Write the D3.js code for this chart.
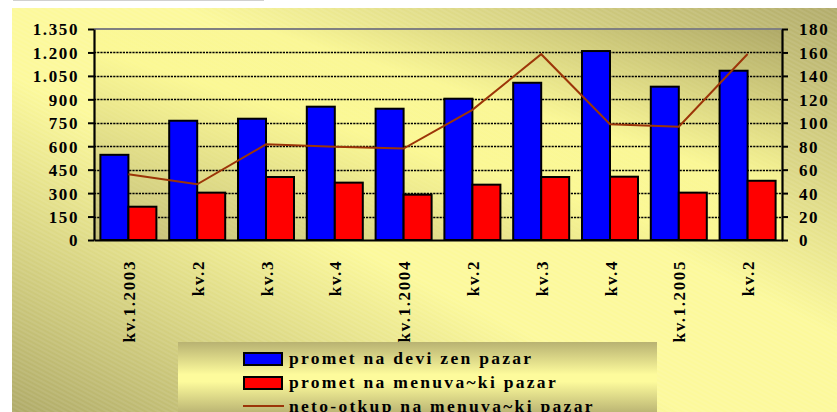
<!DOCTYPE html>
<html>
<head>
<meta charset="utf-8">
<script src="https://cdn.jsdelivr.net/npm/d3@7"></script>
<style>
  html, body { margin: 0; padding: 0; background: #ffffff; }
  svg { display: block; }
  text { font-family: "Liberation Serif", "Times New Roman", serif; font-weight: bold; fill: #000; }
</style>
</head>
<body>
<svg id="chart" width="837" height="412"></svg>
<script>
// Quarterly turnover on the foreign exchange and exchange-office markets
const categories = ["kv.1.2003", "kv.2", "kv.3", "kv.4", "kv.1.2004", "kv.2", "kv.3", "kv.4", "kv.1.2005", "kv.2"];
const prometDevizen = [545, 763, 776, 853, 840, 904, 1006, 1209, 981, 1083];
const prometMenuvacki = [213, 303, 403, 367, 290, 354, 403, 405, 303, 379];
const netoOtkup = [56, 47.5, 81.6, 79.6, 78, 111, 158.5, 98.7, 96.7, 158.7];

const leftTickValues = [0, 150, 300, 450, 600, 750, 900, 1050, 1200, 1350];
const leftTickLabels = ["0", "150", "300", "450", "600", "750", "900", "1.050", "1.200", "1.350"];
const rightTickValues = [0, 20, 40, 60, 80, 100, 120, 140, 160, 180];

const seriesNames = ["promet na devi zen pazar", "promet na menuva~ki pazar", "neto-otkup na menuva~ki pazar"];
const colors = { blue: "#0000ff", red: "#ff0000", line: "#9c3508" };

const svg = d3.select("#chart");
const defs = svg.append("defs");

const yellow = "#fcf99b";

function diagGradient(id, stops) {
  const g = defs.append("linearGradient").attr("id", id)
    .attr("x1", 0).attr("y1", 1).attr("x2", 1).attr("y2", 0);
  stops.forEach(s => g.append("stop").attr("offset", s[0]).attr("stop-color", s[1]));
}
diagGradient("outerBg", [[0, "#aca766"], [0.42, yellow], [0.6, yellow], [1, "#b0aa6a"]]);
diagGradient("plotBg", [[0, "#c2bd78"], [0.45, "#fbf894"], [0.62, "#faf795"], [1, "#aea866"]]);

const lg = defs.append("linearGradient").attr("id", "legendBg")
  .attr("x1", 0).attr("y1", 0).attr("x2", 0).attr("y2", 1);
[[0, "#b8b272"], [0.45, "#fdfb9c"], [0.55, "#fdfb9c"], [1, "#b8b272"]]
  .forEach(s => lg.append("stop").attr("offset", s[0]).attr("stop-color", s[1]));

// fine diagonal hatching over the background
const pat = defs.append("pattern").attr("id", "hatch")
  .attr("patternUnits", "userSpaceOnUse").attr("width", 8).attr("height", 4)
  .attr("patternTransform", "rotate(28)");
pat.append("line").attr("x1", 0).attr("y1", 1).attr("x2", 8).attr("y2", 1)
  .attr("stroke", "#ffffff").attr("stroke-opacity", 0.22).attr("stroke-width", 0.7);

// chart frame
svg.append("rect").attr("x", 12).attr("y", 8).attr("width", 840).attr("height", 420)
  .attr("fill", "url(#outerBg)");
svg.append("rect").attr("x", 12).attr("y", 8).attr("width", 840).attr("height", 420)
  .attr("fill", "url(#hatch)");
svg.append("line").attr("x1", 13).attr("x2", 264).attr("y1", 0.5).attr("y2", 0.5)
  .attr("stroke", "#d0d0d0").attr("stroke-width", 1);

const plot = { left: 94, right: 782, top: 29, bottom: 240 };

const x = d3.scaleBand().domain(d3.range(categories.length))
  .range([plot.left, plot.right]).paddingInner(0.186).paddingOuter(0.093);
const xSub = d3.scaleBand().domain([0, 1]).range([0, x.bandwidth()]);
const yL = d3.scaleLinear().domain([0, 1350]).range([plot.bottom, plot.top]);
const yR = d3.scaleLinear().domain([0, 180]).range([plot.bottom, plot.top]);

// plot area
svg.append("rect").attr("x", plot.left).attr("y", plot.top)
  .attr("width", plot.right - plot.left).attr("height", plot.bottom - plot.top)
  .attr("fill", "url(#plotBg)");
svg.append("rect").attr("x", plot.left).attr("y", plot.top)
  .attr("width", plot.right - plot.left).attr("height", plot.bottom - plot.top)
  .attr("fill", "url(#hatch)").attr("opacity", 0.5);

// dashed gridlines
svg.append("g").selectAll("line")
  .data(leftTickValues.filter(v => v > 0 && v < 1350))
  .join("line")
  .attr("x1", plot.left).attr("x2", plot.right)
  .attr("y1", d => Math.round(yL(d)) + 0.5).attr("y2", d => Math.round(yL(d)) + 0.5)
  .attr("stroke", "#000").attr("stroke-width", 1.7).attr("stroke-dasharray", "2.2,1");

// top border of plot area
svg.append("line").attr("x1", plot.left).attr("x2", plot.right)
  .attr("y1", plot.top).attr("y2", plot.top)
  .attr("stroke", "#808080").attr("stroke-width", 2);

// bars
const groups = svg.append("g").selectAll("g")
  .data(d3.range(categories.length)).join("g")
  .attr("transform", i => `translate(${x(i)},0)`);
groups.append("rect")
  .attr("x", xSub(0)).attr("width", xSub.bandwidth())
  .attr("y", i => yL(prometDevizen[i])).attr("height", i => yL(0) - yL(prometDevizen[i]))
  .attr("fill", colors.blue).attr("stroke", "#000").attr("stroke-width", 2);
groups.append("rect")
  .attr("x", xSub(1)).attr("width", xSub.bandwidth())
  .attr("y", i => yL(prometMenuvacki[i])).attr("height", i => yL(0) - yL(prometMenuvacki[i]))
  .attr("fill", colors.red).attr("stroke", "#000").attr("stroke-width", 2);

// net purchase line on the secondary axis
const line = d3.line()
  .x((d, i) => x(i) + x.bandwidth() / 2)
  .y(d => yR(d));
svg.append("path").datum(netoOtkup).attr("d", line)
  .attr("fill", "none").attr("stroke", colors.line).attr("stroke-width", 2);

// axes
const axisFont = g => g.selectAll("text")
  .style("font-size", "17px").style("letter-spacing", "1.6px");

const leftAxis = svg.append("g").attr("transform", `translate(${plot.left},0)`)
  .call(d3.axisLeft(yL).tickValues(leftTickValues)
    .tickFormat((d, i) => leftTickLabels[i]).tickSize(6).tickPadding(9).tickSizeOuter(0));
leftAxis.call(axisFont);

const rightAxis = svg.append("g").attr("transform", `translate(${plot.right},0)`)
  .call(d3.axisRight(yR).tickValues(rightTickValues).tickSize(6).tickPadding(11).tickSizeOuter(0));
rightAxis.call(axisFont);

[leftAxis, rightAxis].forEach(a => {
  a.select(".domain").attr("stroke", "#000").attr("stroke-width", 2.2);
  a.selectAll(".tick line").attr("stroke", "#000").attr("stroke-width", 2);
  a.selectAll(".tick text").attr("dy", "0.35em");
});

const bottomAxis = svg.append("g").attr("transform", `translate(0,${plot.bottom})`)
  .call(d3.axisBottom(x).tickFormat(i => categories[i]).tickSize(0).tickSizeOuter(0));
bottomAxis.select(".domain").attr("stroke", "#000").attr("stroke-width", 2.2);
bottomAxis.selectAll(".tick text")
  .attr("text-anchor", "end")
  .attr("transform", "translate(6.5,20) rotate(-90)")
  .attr("x", 0).attr("y", 0).attr("dy", 0)
  .style("font-size", "17px").style("letter-spacing", "1.6px");

// legend
const legend = svg.append("g");
legend.append("rect").attr("x", 178).attr("y", 342).attr("width", 479).attr("height", 72)
  .attr("fill", "url(#legendBg)");
const legendRows = [
  { name: seriesNames[0], type: "bar", color: colors.blue },
  { name: seriesNames[1], type: "bar", color: colors.red },
  { name: seriesNames[2], type: "line", color: colors.line }
];
legendRows.forEach((r, i) => {
  const cy = 359 + i * 24;
  if (r.type === "bar") {
    legend.append("rect").attr("x", 244).attr("y", cy - 6).attr("width", 38).attr("height", 12)
      .attr("fill", r.color).attr("stroke", "#000").attr("stroke-width", 2);
  } else {
    legend.append("line").attr("x1", 243).attr("x2", 284).attr("y1", cy - 1).attr("y2", cy - 1)
      .attr("stroke", r.color).attr("stroke-width", 2);
  }
  legend.append("text").attr("x", 289).attr("y", cy + 5)
    .style("font-size", "17.5px").style("letter-spacing", "2.3px")
    .text(r.name);
});
</script>
</body>
</html>
